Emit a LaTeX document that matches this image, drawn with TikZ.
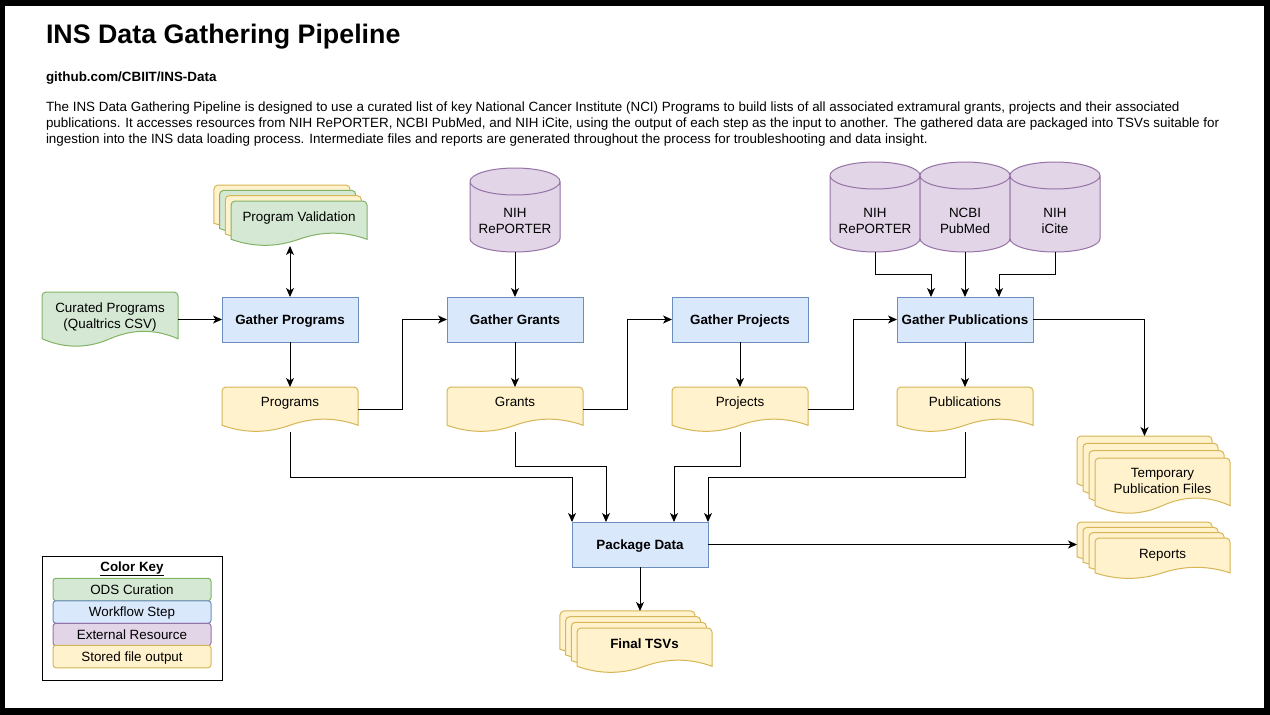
\documentclass[tikz,border=0pt]{standalone}
\usepackage{fontspec}
\setmainfont{Liberation Sans}
\usetikzlibrary{calc,arrows.meta}

\definecolor{odsfill}{HTML}{D5E8D4}
\definecolor{odsline}{HTML}{82B366}
\definecolor{stepfill}{HTML}{DAE8FC}
\definecolor{stepline}{HTML}{6C8EBF}
\definecolor{extfill}{HTML}{E1D5E7}
\definecolor{extline}{HTML}{9673A6}
\definecolor{filefill}{HTML}{FFF2CC}
\definecolor{fileline}{HTML}{D6B656}

\makeatletter
\newdimen\shpx \newdimen\shpy \newdimen\shpw \newdimen\shph \newdimen\shpr
% document sheet with a wavy bottom
\pgfdeclareshape{wavedoc}{%
  \inheritsavedanchors[from=rectangle]%
  \inheritanchorborder[from=rectangle]%
  \inheritanchor[from=rectangle]{center}%
  \inheritanchor[from=rectangle]{north}%
  \inheritanchor[from=rectangle]{south}%
  \inheritanchor[from=rectangle]{east}%
  \inheritanchor[from=rectangle]{west}%
  \inheritanchor[from=rectangle]{north east}%
  \inheritanchor[from=rectangle]{north west}%
  \inheritanchor[from=rectangle]{south east}%
  \inheritanchor[from=rectangle]{south west}%
  \backgroundpath{%
    \southwest\shpx=\pgf@x\shpy=\pgf@y
    \northeast\shpw=\pgf@x\shph=\pgf@y
    \advance\shpw by-\shpx\advance\shph by-\shpy
    \pgfpathmoveto{\pgfpoint{\shpx}{\shpy+0.15*\shph}}%
    \pgfpathlineto{\pgfpoint{\shpx}{\shpy+\shph-4}}%
    \pgfpathcurveto{\pgfpoint{\shpx}{\shpy+\shph-1.8}}{\pgfpoint{\shpx+1.8}{\shpy+\shph}}{\pgfpoint{\shpx+4}{\shpy+\shph}}%
    \pgfpathlineto{\pgfpoint{\shpx+\shpw-4}{\shpy+\shph}}%
    \pgfpathcurveto{\pgfpoint{\shpx+\shpw-1.8}{\shpy+\shph}}{\pgfpoint{\shpx+\shpw}{\shpy+\shph-1.8}}{\pgfpoint{\shpx+\shpw}{\shpy+\shph-4}}%
    \pgfpathlineto{\pgfpoint{\shpx+\shpw}{\shpy+0.15*\shph}}%
    \pgfpathcurveto{\pgfpoint{\shpx+0.8333*\shpw}{\shpy+0.33*\shph}}{\pgfpoint{\shpx+0.6667*\shpw}{\shpy+0.33*\shph}}{\pgfpoint{\shpx+0.5*\shpw}{\shpy+0.15*\shph}}%
    \pgfpathcurveto{\pgfpoint{\shpx+0.3333*\shpw}{\shpy-0.03*\shph}}{\pgfpoint{\shpx+0.1667*\shpw}{\shpy-0.03*\shph}}{\pgfpoint{\shpx}{\shpy+0.15*\shph}}%
    \pgfpathclose
  }%
}
% database cylinder
\pgfdeclareshape{datacyl}{%
  \inheritsavedanchors[from=rectangle]%
  \inheritanchorborder[from=rectangle]%
  \inheritanchor[from=rectangle]{center}%
  \inheritanchor[from=rectangle]{north}%
  \inheritanchor[from=rectangle]{south}%
  \inheritanchor[from=rectangle]{east}%
  \inheritanchor[from=rectangle]{west}%
  \backgroundpath{%
    \southwest\shpx=\pgf@x\shpy=\pgf@y
    \northeast\shpw=\pgf@x\shph=\pgf@y
    \advance\shpw by-\shpx\advance\shph by-\shpy
    \shpr=0.5\shpw
    \pgfpathmoveto{\pgfpoint{\shpx}{\shpy+\shph-13.5}}%
    \pgfpathlineto{\pgfpoint{\shpx}{\shpy+13.5}}%
    \pgfpatharc{180}{360}{\shpr and 13.5pt}%
    \pgfpathlineto{\pgfpoint{\shpx+\shpw}{\shpy+\shph-13.5}}%
    \pgfpatharc{0}{180}{\shpr and 13.5pt}%
    \pgfpathclose
    \pgfpathmoveto{\pgfpoint{\shpx}{\shpy+\shph-13.5}}%
    \pgfpatharc{180}{360}{\shpr and 13.5pt}%
  }%
}
\makeatother

\begin{document}
\begin{tikzpicture}[x=1pt,y=-1pt,>={Stealth[length=9pt,width=8pt,inset=2.5pt]},
    every node/.style={font=\fontsize{13.4}{16}\selectfont, outer sep=0pt},
    ods/.style={draw=odsline, fill=odsfill},
    wf/.style={draw=stepline, fill=stepfill},
    ext/.style={draw=extline, fill=extfill},
    file/.style={draw=fileline, fill=filefill},
    txt/.style={anchor=base west, inner sep=0pt},
    stepbox/.style={wf, line width=1pt, minimum width=136pt, minimum height=45pt, inner sep=0pt,
        text height=9.6pt, text depth=0pt, font=\fontsize{13.4}{16}\selectfont\bfseries},
    filedoc/.style={shape=wavedoc, line width=1pt, minimum width=136pt, minimum height=45pt,
        inner sep=0pt, text height=9.6pt, text depth=0pt},
    lift/.style={text depth=#1},
    resource/.style={shape=datacyl, ext, line width=1pt, minimum width=90pt, minimum height=84pt,
        inner sep=0pt, align=center, text depth=0pt},
    keyitem/.style={draw, line width=1pt, rounded corners=3pt, minimum width=158pt, minimum height=22.5pt,
        inner sep=0pt, text height=9.6pt, text depth=0pt},
    flow/.style={->, line width=1pt}]
\useasboundingbox (0,0) rectangle (1270,715);
\fill[black] (0,0) rectangle (1270,715);
\fill[white] (5,6) rectangle (1264,708);

\node[txt, font=\fontsize{26.8}{32}\selectfont\bfseries] (title) at (46,43) {INS Data Gathering Pipeline};
\node[txt, font=\fontsize{13.4}{16}\selectfont\bfseries] (repo) at (46,81) {github.com/CBIIT/INS-Data};
\node[txt, align=left] (desc) at (46,143.8) {The INS Data Gathering Pipeline is designed to use a curated list of key National Cancer Institute (NCI) Programs to build lists of all associated extramural grants, projects and their associated\\
publications. It accesses resources from NIH RePORTER, NCBI PubMed, and NIH iCite, using the output of each step as the input to another. The gathered data are packaged into TSVs suitable for\\
ingestion into the INS data loading process. Intermediate files and reports are generated throughout the process for troubleshooting and data insight.};

% external resources
\node[resource, text height=47.6pt] (reporter) at (515,210) {NIH\\RePORTER};
\node[resource, minimum height=90pt, text height=53.6pt] (reporter2) at (875,207) {NIH\\RePORTER};
\node[resource, minimum height=90pt, text height=53.6pt] (pubmed) at (965,207) {NCBI\\PubMed};
\node[resource, minimum height=90pt, text height=53.6pt] (icite) at (1055,207) {NIH\\iCite};

% workflow steps
\node[stepbox] (gprog) at (290,319.5) {Gather Programs};
\node[stepbox] (ggrant) at (515,319.5) {Gather Grants};
\node[stepbox] (gproj) at (740,319.5) {Gather Projects};
\node[stepbox] (gpub) at (965,319.5) {Gather Publications};
\node[stepbox] (pkg) at (640,544.5) {Package Data};

% files
\node[filedoc, ods, minimum height=55pt, align=center, text height=17.6pt] (curated) at (110,319.5) {Curated Programs\\(Qualtrics CSV)};
\node[filedoc, file, lift=15pt] (progs) at (290,409.5) {Programs};
\node[filedoc, file, lift=15pt] (grants) at (515,409.5) {Grants};
\node[filedoc, file, lift=15pt] (projs) at (740,409.5) {Projects};
\node[filedoc, file, lift=15pt] (pubs) at (965,409.5) {Publications};

\foreach \i/\col in {3/file,2/ods,1/file}
    \node[filedoc, \col] (valid\i) at (299-5.67*\i,223.5-5.33*\i) {};
\node[filedoc, ods, lift=13pt] (valid) at (299,223.5) {Program Validation};

\foreach \i in {3,2,1}
    \node[filedoc, file, minimum width=135pt, minimum height=56pt] (temp\i) at (1162.5-6*\i,486-7.33*\i) {};
\node[filedoc, file, minimum width=135pt, minimum height=56pt, align=center, text height=15.6pt] (temp) at (1162.5,486) {Temporary\\Publication Files};

\foreach \i in {3,2,1}
    \node[filedoc, file, minimum width=135pt, minimum height=41pt] (reports\i) at (1162.5-6*\i,558.5-5.33*\i) {};
\node[filedoc, file, minimum width=135pt, minimum height=41pt, lift=9pt] (reports) at (1162.5,558.5) {Reports};

\foreach \i in {3,2,1}
    \node[filedoc, file, minimum width=135pt] (tsv\i) at (644.5-5.67*\i,650.5-5.67*\i) {};
\node[filedoc, file, minimum width=135pt, lift=13pt, font=\fontsize{13.4}{16}\selectfont\bfseries] (tsvs) at (644.5,650.5) {Final TSVs};

% connectors
\draw[flow, <->] (valid.south -| gprog.north) -- (gprog.north);
\draw[flow] (curated.east) -- (gprog.west);
\draw[flow] (gprog.south) -- (progs.north);
\draw[flow] (progs.east) -- ++(44.5,0) |- (ggrant.west);
\draw[flow] (reporter.south) -- (ggrant.north);
\draw[flow] (ggrant.south) -- (grants.north);
\draw[flow] (grants.east) -- ++(44.5,0) |- (gproj.west);
\draw[flow] (gproj.south) -- (projs.north);
\draw[flow] (projs.east) -- ++(45,0) |- (gpub.west);
\draw[flow] (reporter2.south) -- ++(0,22) -| ($(gpub.north west)!.25!(gpub.north east)$);
\draw[flow] (pubmed.south) -- (gpub.north);
\draw[flow] (icite.south) -- ++(0,22) -| ($(gpub.north west)!.75!(gpub.north east)$);
\draw[flow] (gpub.south) -- (pubs.north);
\draw[flow] (gpub.east) -| (temp3.north);
\draw[flow] (progs.south) -- ++(0,45) -| (pkg.north west);
\draw[flow] (grants.south) -- ++(0,34) -| ($(pkg.north west)!.25!(pkg.north east)$);
\draw[flow] (projs.south) -- ++(0,34) -| ($(pkg.north west)!.75!(pkg.north east)$);
\draw[flow] (pubs.south) -- ++(0,45) -| (pkg.north east);
\draw[flow] (pkg.east) -- (pkg.east -| reports3.west);
\draw[flow] (pkg.south) -- (pkg.south |- tsv3.north);

% colour key
\node[draw, line width=1pt, minimum width=180pt, minimum height=124pt, inner sep=0pt] (keybox) at (132,618) {};
\node[anchor=base, inner sep=0pt, font=\fontsize{13.4}{16}\selectfont\bfseries] (keytitle) at (132,571.3) {\underline{Color Key}};
\node[keyitem, ods] (kods) at (132,589.5) {ODS Curation};
\node[keyitem, wf] (kwf) at (132,612) {Workflow Step};
\node[keyitem, ext] (kext) at (132,634.5) {External Resource};
\node[keyitem, file] (kfile) at (132,656.5) {Stored file output};
\end{tikzpicture}
\end{document}
